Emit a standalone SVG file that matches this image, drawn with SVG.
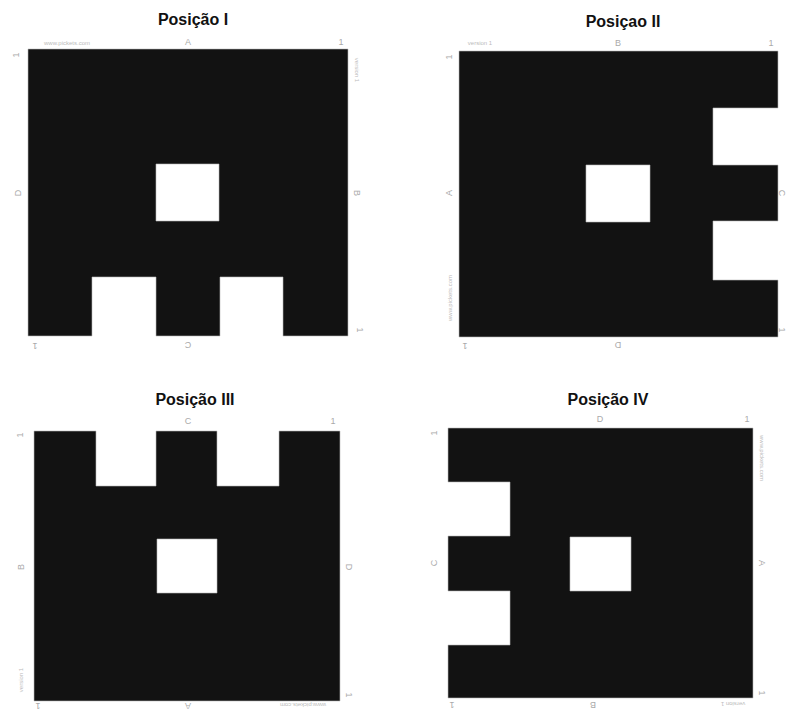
<svg xmlns="http://www.w3.org/2000/svg" width="787" height="711" viewBox="0 0 787 711">
<style>
.title{font-family:"Liberation Sans",Arial,sans-serif;font-weight:bold;font-size:16px;fill:#111;text-anchor:middle}
.lbl{font-family:"Liberation Sans",Arial,sans-serif;font-size:9px;fill:#aaa;text-anchor:middle}
.wm{font-family:"Liberation Sans",Arial,sans-serif;font-size:6px;fill:#bbb;text-anchor:middle}
.blk{fill:#121212;fill-rule:evenodd;stroke:#bbb;stroke-width:0.6}
</style>
<rect width="787" height="711" fill="#fff"/>
<g id="pos1">
<text class="title" x="193" y="25">Posição I</text>
<path class="blk" d="M28,49 H348 V336 H283 V277 H220 V336 H156 V277 H92 V336 H28 Z M156,164 H219 V221 H156 Z"/>
<text class="lbl" x="188" y="45">A</text>
<text class="lbl" x="341" y="45">1</text>
<text class="wm" x="67" y="45">www.pickets.com</text>
<text class="lbl" transform="translate(19,55) rotate(-90)">1</text>
<text class="lbl" transform="translate(21,193) rotate(-90)">D</text>
<text class="lbl" transform="translate(354,193) rotate(90)">B</text>
<text class="wm" transform="translate(355,70) rotate(90)">version 1</text>
<text class="lbl" transform="translate(357,330) rotate(90)">1</text>
<text class="lbl" transform="translate(35,343) rotate(180)">1</text>
<text class="lbl" transform="translate(188,342) rotate(180)">C</text>
</g>
<g id="pos2">
<text class="title" x="623" y="27">Posiçao II</text>
<path class="blk" d="M459,51 H778 V108 H713 V165 H778 V221 H713 V280 H778 V337 H459 Z M586,165 H650 V222 H586 Z"/>
<text class="lbl" x="618" y="46">B</text>
<text class="lbl" x="771" y="46">1</text>
<text class="wm" x="480" y="45">version 1</text>
<text class="lbl" transform="translate(452,57) rotate(-90)">1</text>
<text class="lbl" transform="translate(452,193) rotate(-90)">A</text>
<text class="wm" transform="translate(452,298) rotate(-90)">www.pickets.com</text>
<text class="lbl" transform="translate(465,343) rotate(180)">1</text>
<text class="lbl" transform="translate(618,342) rotate(180)">D</text>
<text class="lbl" transform="translate(779,193) rotate(90)">C</text>
<text class="lbl" transform="translate(779,330) rotate(90)">1</text>
</g>
<g id="pos3">
<text class="title" x="195" y="405">Posição III</text>
<path class="blk" d="M34,431 H96 V486 H156 V431 H217 V486 H279 V431 H340 V701 H34 Z M157,539 H217 V593 H157 Z"/>
<text class="lbl" x="188" y="424">C</text>
<text class="lbl" x="333" y="424">1</text>
<text class="lbl" transform="translate(23,435) rotate(-90)">1</text>
<text class="lbl" transform="translate(24,567) rotate(-90)">B</text>
<text class="wm" transform="translate(23,680) rotate(-90)">version 1</text>
<text class="lbl" transform="translate(346,567) rotate(90)">D</text>
<text class="lbl" transform="translate(346,695) rotate(90)">1</text>
<text class="lbl" transform="translate(188,703) rotate(180)">A</text>
<text class="wm" transform="translate(303,703) rotate(180)">www.pickets.com</text>
<text class="lbl" transform="translate(38,703) rotate(180)">1</text>
</g>
<g id="pos4">
<text class="title" x="608" y="405">Posição IV</text>
<path class="blk" d="M448,428 H753 V698 H448 V645 H510 V591 H448 V536 H510 V482 H448 Z M570,537 H631 V591 H570 Z"/>
<text class="lbl" x="600" y="422">D</text>
<text class="lbl" x="747" y="422">1</text>
<text class="lbl" transform="translate(437,433) rotate(-90)">1</text>
<text class="lbl" transform="translate(437,563) rotate(-90)">C</text>
<text class="lbl" transform="translate(759,563) rotate(90)">A</text>
<text class="wm" transform="translate(760,458) rotate(90)">www.pickets.com</text>
<text class="lbl" transform="translate(759,693) rotate(90)">1</text>
<text class="lbl" transform="translate(593,702) rotate(180)">B</text>
<text class="wm" transform="translate(733,702) rotate(180)">version 1</text>
<text class="lbl" transform="translate(452,702) rotate(180)">1</text>
</g>
</svg>
